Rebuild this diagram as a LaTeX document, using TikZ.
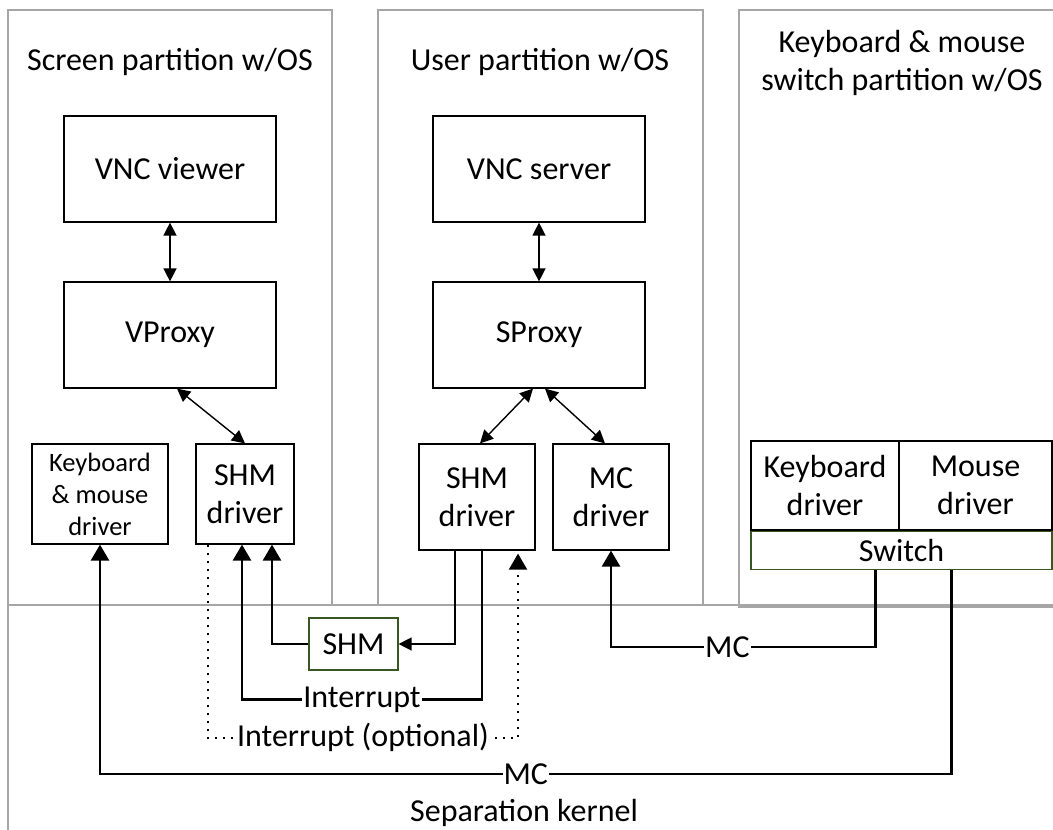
\documentclass[tikz,border=0pt]{standalone}
\usepackage{fontspec}
\setmainfont{Carlito}
\usetikzlibrary{arrows.meta,positioning}
\definecolor{partgray}{RGB}{166,166,166}
\definecolor{shmgreen}{RGB}{56,87,35}

\begin{document}
\begin{tikzpicture}[
  x=1pt, y=1pt,
  font=\fontsize{32}{38}\selectfont,
  partition/.style={draw=partgray, line width=1.2pt},
  title/.style={align=center, inner sep=0pt, anchor=base},
  comp/.style={draw=black, line width=1.2pt, minimum width=212pt, minimum height=106pt, inner sep=0pt},
  drv/.style={draw=black, line width=1.2pt, align=center, minimum width=116pt, minimum height=106pt, inner sep=0pt},
  smalldrv/.style={drv, minimum width=98pt, minimum height=100pt},
  mem/.style={draw=shmgreen, line width=1.2pt, inner sep=0pt},
  link/.style={{Triangle[length=13pt,width=13pt]}-{Triangle[length=13pt,width=13pt]}, line width=1.4pt},
  thinarrow/.style={-{Triangle[length=13pt,width=13pt]}, line width=1.4pt},
  bus/.style={-{Triangle[length=16pt,width=18pt]}, line width=2.6pt},
  optbus/.style={bus, line width=2pt, dash pattern=on 2pt off 6pt},
  lbl/.style={fill=white, inner sep=1pt}
]
\useasboundingbox (0,0) rectangle (1053,-830);

% Partitions and kernel
\draw[partition] (8,-10) rectangle (332,-605);
\draw[partition] (378,-10) rectangle (703,-605);
\draw[partition] (739,-10) rectangle (1070,-607);
\draw[partition] (1070,-605) -- (8,-605) -- (8,-850);

\node[title] (scrtitle) at (170,-70) {Screen partition w/OS};
\node[title] (usrtitle) at (540,-70) {User partition w/OS};
\node[title] (kmtitle) at (902,-90) {Keyboard \& mouse\\switch partition w/OS};

% Screen partition
\node[comp] (vncv) at (170,-169) {VNC viewer};
\node[comp, below of=vncv, node distance=166pt] (vproxy) {VProxy};
\node[smalldrv, minimum width=136pt, font=\fontsize{26.5}{32}\selectfont] (kmd) at (100,-494) {Keyboard\\\& mouse\\driver};
\node[smalldrv, right of=kmd, node distance=145pt] (shml) {SHM\\driver};

\draw[link] (vncv) -- (vproxy);
\draw[link] ([xshift=7pt]vproxy.south) -- (shml.north);

% User partition
\node[comp] (vncs) at (539,-169) {VNC server};
\node[comp, below of=vncs, node distance=166pt] (sproxy) {SProxy};
\node[drv] (shmm) at (477,-497) {SHM\\driver};
\node[drv, right of=shmm, node distance=134pt] (mcd) {MC\\driver};

\draw[link] (vncs) -- (sproxy);
\draw[link] ([xshift=-6pt]sproxy.south) -- ([xshift=3pt]shmm.north);
\draw[link] ([xshift=6pt]sproxy.south) -- ([xshift=-6pt]mcd.north);

% Keyboard & mouse switch partition
\node[drv, minimum width=148pt, minimum height=89pt] (kbd) at (825,-485.5) {Keyboard\\driver};
\node[drv, minimum width=153pt, minimum height=89pt, right of=kbd, node distance=150.5pt] (mouse) {Mouse\\driver};
\node[mem, minimum width=301pt, minimum height=38pt, anchor=north west] (switch) at (kbd.south west) {Switch};

% Separation kernel
\node[mem, minimum width=89pt, minimum height=52pt] (shm) at (353.5,-644) {SHM};
\node[anchor=base] (kernel) at (524,-821) {Separation kernel};

\draw[bus] (shm.west) -| ([xshift=27pt]shml.south);
\draw[thinarrow] ([xshift=-22pt]shmm.south) |- (shm.east);
\draw[bus] ([xshift=5pt]shmm.south) -- ++(0,-149) -| node[lbl, pos=0.25] {Interrupt} ([xshift=-3pt]shml.south);
\draw[optbus] ([xshift=-37pt]shml.south) -- ++(0,-193) -| node[lbl, pos=0.25] {Interrupt (optional)} ([xshift=41pt, yshift=-3pt]shmm.south);
\draw[bus] ([xshift=-26pt]switch.south) -- ++(0,-77) -| node[lbl, pos=0.28] {MC} (mcd.south);
\draw[bus] ([xshift=50pt]switch.south) -- ++(0,-204) -| node[lbl, pos=0.25] {MC} (kmd.south);

\end{tikzpicture}
\end{document}
